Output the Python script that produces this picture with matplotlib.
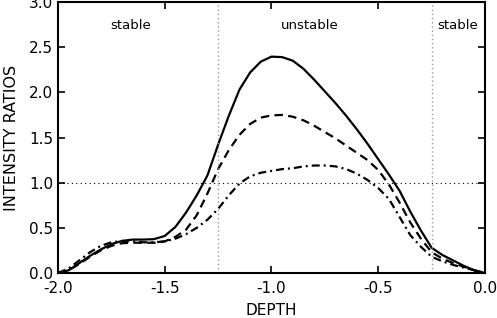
import numpy as np
import matplotlib.pyplot as plt

plt.rcParams['font.family'] = ['DejaVu Sans']

depth = np.round(np.arange(-2.0, 0.001, 0.05), 2)

solid = [0.00, 0.03, 0.11, 0.19, 0.26, 0.32, 0.355, 0.37, 0.37, 0.375,
         0.41, 0.51, 0.67, 0.86, 1.08, 1.42, 1.74, 2.03, 2.22, 2.34,
         2.395, 2.39, 2.35, 2.26, 2.14, 2.01, 1.88, 1.74, 1.59, 1.43,
         1.26, 1.09, 0.91, 0.68, 0.47, 0.28, 0.20, 0.14, 0.08, 0.03, 0.00]

dashed = [0.00, 0.03, 0.10, 0.18, 0.25, 0.30, 0.33, 0.335, 0.335, 0.335,
          0.35, 0.40, 0.48, 0.64, 0.88, 1.15, 1.36, 1.53, 1.65, 1.72,
          1.745, 1.75, 1.73, 1.69, 1.63, 1.56, 1.49, 1.41, 1.33, 1.25,
          1.14, 0.98, 0.78, 0.56, 0.38, 0.23, 0.16, 0.11, 0.07, 0.03, 0.00]

dashdot = [0.00, 0.05, 0.14, 0.23, 0.30, 0.34, 0.355, 0.35, 0.34, 0.34,
           0.35, 0.38, 0.43, 0.50, 0.59, 0.71, 0.86, 0.99, 1.07, 1.11,
           1.13, 1.15, 1.16, 1.18, 1.19, 1.19, 1.18, 1.15, 1.10, 1.03,
           0.94, 0.82, 0.62, 0.42, 0.29, 0.18, 0.13, 0.09, 0.06, 0.03, 0.00]

regions = [("stable", -1.66), ("unstable", -0.82), ("stable", -0.13)]
boundaries = [-1.25, -0.25]

fig = plt.figure(figsize=(4.97, 3.18), dpi=100)
ax = fig.add_axes([0.1167, 0.1415, 0.8591, 0.8522])

ax.plot(depth, solid, color="black", lw=1.6, ls="-")
ax.plot(depth, dashed, color="black", lw=1.6, dashes=(3.8, 2.4))
ax.plot(depth, dashdot, color="black", lw=1.6, dashes=(3.6, 1.8, 0.9, 1.8))

for b in boundaries:
    ax.axvline(b, color="#999999", lw=1.0, ls=(0, (1, 2)))
ax.axhline(1.0, color="black", lw=0.8, ls=(0, (1, 3)))

for label, x in regions:
    ax.text(x, 2.74, label, ha="center", va="center", fontsize=9.5)

ax.set_xlim(-2.0, 0.0)
ax.set_ylim(0.0, 3.0)
ax.set_xticks(np.arange(-2.0, 0.01, 0.5))
ax.set_yticks(np.arange(0.0, 3.01, 0.5))
ax.xaxis.set_major_formatter(plt.FormatStrFormatter('%.1f'))
ax.yaxis.set_major_formatter(plt.FormatStrFormatter('%.1f'))
ax.tick_params(direction="in", length=5, width=1.2, top=True, right=True,
               labelsize=11)
ax.tick_params(axis="x", pad=6)
ax.tick_params(axis="y", pad=3.5)
for s in ax.spines.values():
    s.set_linewidth(1.5)

ax.set_xlabel("DEPTH", fontsize=11, labelpad=5)
ax.set_ylabel("INTENSITY RATIOS", fontsize=11.5, labelpad=7)

fig.savefig("out.png", dpi=100)
